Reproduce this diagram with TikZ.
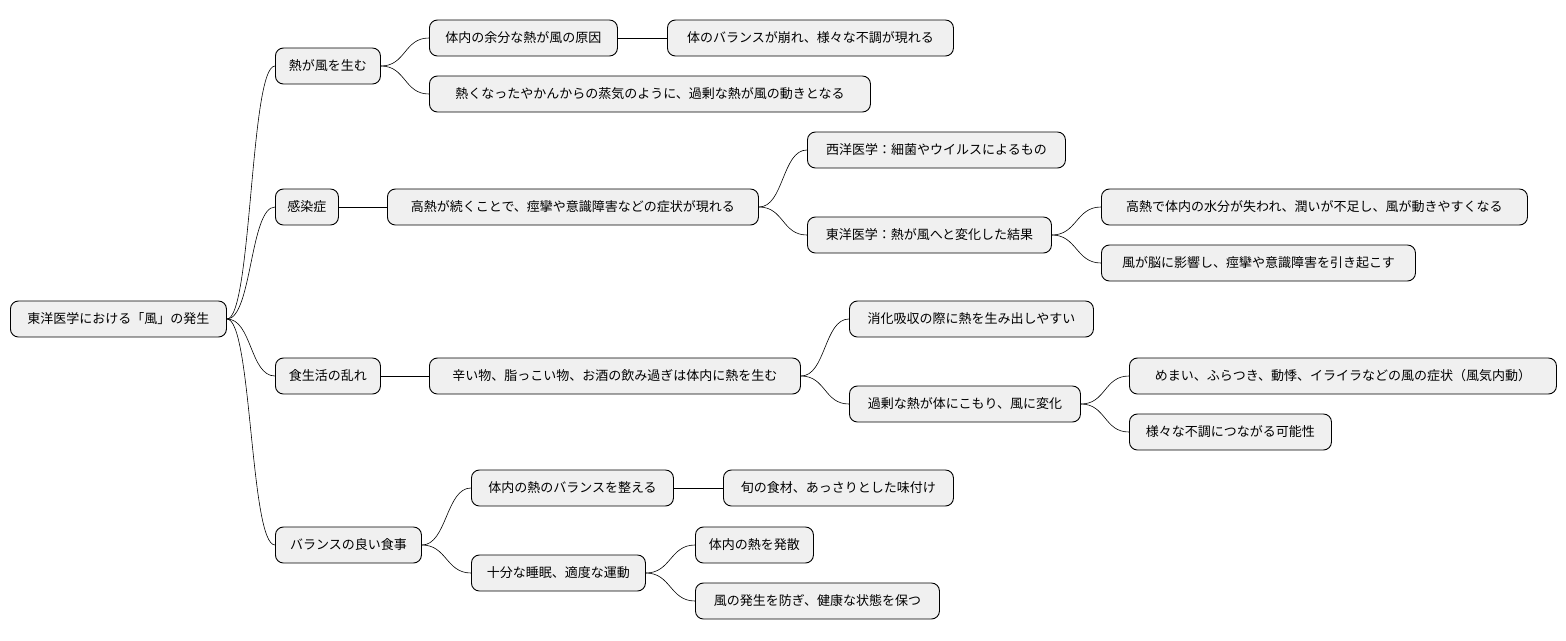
\documentclass[tikz,border=0pt]{standalone}
\usepackage{fontspec}
\setmainfont{Noto Sans CJK JP}
\begin{document}
\begin{tikzpicture}[x=1pt,y=-1pt,
  box/.style={draw=black,line width=0.9pt,fill=black!6,rounded corners=8pt,minimum height=36pt,inner sep=0pt,anchor=west,font=\fontsize{13}{15}\selectfont},
  ed/.style={line width=0.6pt}]
\useasboundingbox (0,0) rectangle (1566,640);
\newcommand{\nd}[5]{\node[box,minimum width=#3-#2] (#1) at (#2,#4) {#5};}
\newcommand{\cn}[2]{\draw[ed] (#1.east) .. controls +(25,0) and +(-25,0) .. (#2.west);}
\nd{r}{10}{226}{319}{東洋医学における「風」の発生}
\nd{a}{275}{380}{66}{熱が風を生む}
\nd{b}{275}{338}{207}{感染症}
\nd{c}{275}{380}{376}{食生活の乱れ}
\nd{d}{275}{421}{545}{バランスの良い食事}
\nd{a1}{429}{617}{38}{体内の余分な熱が風の原因}
\nd{a11}{667}{953}{38}{体のバランスが崩れ、様々な不調が現れる}
\nd{a2}{429}{870}{94}{熱くなったやかんからの蒸気のように、過剰な熱が風の動きとなる}
\nd{b1}{387}{758}{207}{高熱が続くことで、痙攣や意識障害などの症状が現れる}
\nd{b11}{807}{1065}{150}{西洋医学：細菌やウイルスによるもの}
\nd{b12}{807}{1051}{235}{東洋医学：熱が風へと変化した結果}
\nd{b121}{1101}{1527}{207}{高熱で体内の水分が失われ、潤いが不足し、風が動きやすくなる}
\nd{b122}{1101}{1415}{263}{風が脳に影響し、痙攣や意識障害を引き起こす}
\nd{c1}{429}{800}{376}{辛い物、脂っこい物、お酒の飲み過ぎは体内に熱を生む}
\nd{c11}{849}{1093}{319}{消化吸収の際に熱を生み出しやすい}
\nd{c12}{849}{1080}{404}{過剰な熱が体にこもり、風に変化}
\nd{c121}{1129}{1556}{376}{めまい、ふらつき、動悸、イライラなどの風の症状（風気内動）}
\nd{c122}{1129}{1331}{432}{様々な不調につながる可能性}
\nd{d1}{471}{673}{488}{体内の熱のバランスを整える}
\nd{d11}{723}{953}{488}{旬の食材、あっさりとした味付け}
\nd{d2}{471}{645}{573}{十分な睡眠、適度な運動}
\nd{d21}{695}{813}{545}{体内の熱を発散}
\nd{d22}{695}{939}{601}{風の発生を防ぎ、健康な状態を保つ}
\cn{r}{a}\cn{r}{b}\cn{r}{c}\cn{r}{d}
\cn{a}{a1}\cn{a1}{a11}\cn{a}{a2}
\cn{b}{b1}\cn{b1}{b11}\cn{b1}{b12}\cn{b12}{b121}\cn{b12}{b122}
\cn{c}{c1}\cn{c1}{c11}\cn{c1}{c12}\cn{c12}{c121}\cn{c12}{c122}
\cn{d}{d1}\cn{d1}{d11}\cn{d}{d2}\cn{d2}{d21}\cn{d2}{d22}
\end{tikzpicture}
\end{document}
